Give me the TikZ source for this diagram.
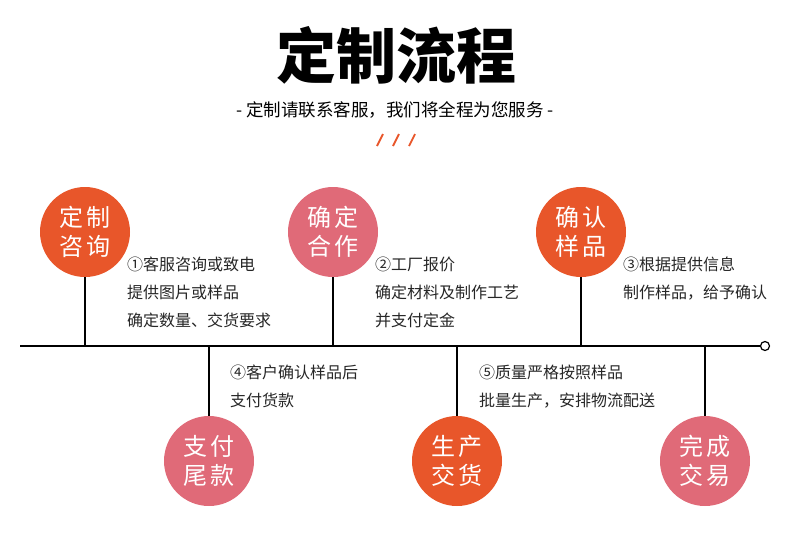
\documentclass[tikz,border=0pt]{standalone}
\usepackage{fontspec}
\newfontfamily\cjk{Noto Sans CJK SC}
\definecolor{steporange}{HTML}{E8562A}
\definecolor{steppink}{HTML}{E06A78}

\begin{document}
\begin{tikzpicture}[x=1pt,y=-1pt,
  stepdot/.style={circle,minimum size=90pt,inner sep=0pt,text=white,align=center,
    font=\cjk\fontsize{24}{29}\selectfont},
  desc/.style={anchor=north west,inner sep=0pt,align=left,text=black!85,
    font=\cjk\fontsize{16}{28}\selectfont},
  stem/.style={line width=2pt}]
\useasboundingbox (0,0) rectangle (790,552);

% Title
\node (title) at (396,55) {\cjk\bfseries\fontsize{60}{62}\selectfont 定制流程};
\node (subtitle) at (395,110) {\cjk\fontsize{17.5}{20}\selectfont - 定制请联系客服，我们将全程为您服务 -};
\foreach \x in {380,396,412}
  \draw[steporange,line width=1.8pt] (\x-3,146) -- (\x+3,134);

% Timeline
\coordinate (start) at (20,346);
\node (finish) [circle,draw,fill=white,line width=1.2pt,minimum size=9pt,inner sep=0pt] at (765,346) {};
\draw[stem] (start) -- (finish.west);

% Upper steps
\node[stepdot,fill=steporange] (s1) at (85,232) {定\hspace{3pt}制\\咨\hspace{3pt}询};
\node[stepdot,fill=steppink] (s2) at (333,232) {确\hspace{3pt}定\\合\hspace{3pt}作};
\node[stepdot,fill=steporange] (s3) at (581,232) {确\hspace{3pt}认\\样\hspace{3pt}品};
\draw[stem] (s1.south) -- (s1.south |- start);
\draw[stem] (s2.south) -- (s2.south |- start);
\draw[stem] (s3.south) -- (s3.south |- start);

\node[desc] (t1) at (127,257) {①客服咨询或致电\\提供图片或样品\\确定数量、交货要求};
\node[desc] (t2) at (375,257) {②工厂报价\\确定材料及制作工艺\\并支付定金};
\node[desc] (t3) at (623,257) {③根据提供信息\\制作样品，给予确认};

% Lower steps
\node[stepdot,fill=steppink] (s4) at (209,461) {支\hspace{3pt}付\\尾\hspace{3pt}款};
\node[stepdot,fill=steporange] (s5) at (457,461) {生\hspace{3pt}产\\交\hspace{3pt}货};
\node[stepdot,fill=steppink] (s6) at (705,461) {完\hspace{3pt}成\\交\hspace{3pt}易};
\draw[stem] (s4.north |- start) -- (s4.north);
\draw[stem] (s5.north |- start) -- (s5.north);
\draw[stem] (s6.north |- start) -- (s6.north);

\node[desc] (t4) at (230,365) {④客户确认样品后\\支付货款};
\node[desc] (t5) at (479,365) {⑤质量严格按照样品\\批量生产，安排物流配送};

\end{tikzpicture}
\end{document}
